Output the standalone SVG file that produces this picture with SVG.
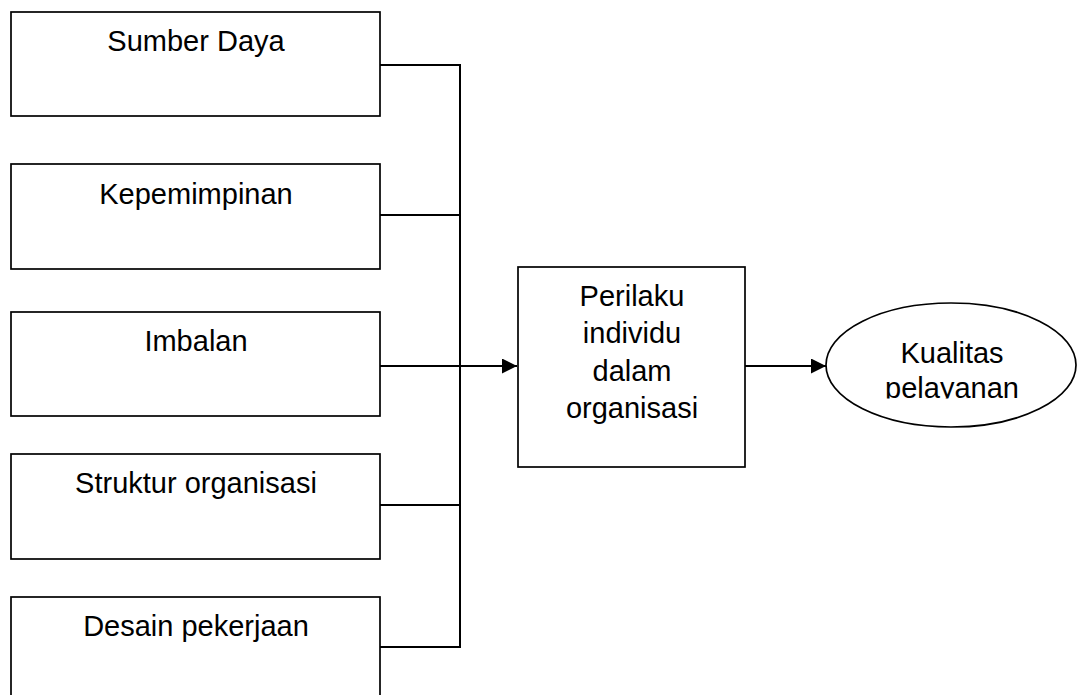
<svg xmlns="http://www.w3.org/2000/svg" width="1077" height="695" viewBox="0 0 1077 695">
<style>
.box{fill:#fff;stroke:#000;stroke-width:1.7}
.ln{fill:none;stroke:#000;stroke-width:2}
text{font-family:"Liberation Sans",Arial,sans-serif;font-size:29px;fill:#000;text-anchor:middle}
</style>
<defs>
<marker id="ah" markerWidth="17" markerHeight="17" refX="15" refY="7.5" orient="auto" markerUnits="userSpaceOnUse">
<path d="M0,0 L15,7.5 L0,15 Z" fill="#000"/>
</marker>
<clipPath id="clipK"><rect x="826" y="300" width="251" height="98.5"/></clipPath>
</defs>
<rect width="1077" height="695" fill="#fff"/>
<g id="connectors">
<path class="ln" d="M380,65 H460 M380,215 H460 M380,505 H460 M380,647 H460 M460,64 V648"/>
<path class="ln" d="M380,366 H517" marker-end="url(#ah)"/>
<path class="ln" d="M745,366 H826" marker-end="url(#ah)"/>
</g>
<g id="n1"><rect class="box" x="11" y="12" width="369" height="104"/><text x="196" y="51">Sumber Daya</text></g>
<g id="n2"><rect class="box" x="11" y="164" width="369" height="105"/><text x="196" y="204">Kepemimpinan</text></g>
<g id="n3"><rect class="box" x="11" y="312" width="369" height="104"/><text x="196" y="351">Imbalan</text></g>
<g id="n4"><rect class="box" x="11" y="454" width="369" height="105"/><text x="196" y="493">Struktur organisasi</text></g>
<g id="n5"><rect class="box" x="11" y="597" width="369" height="110"/><text x="196" y="636">Desain pekerjaan</text></g>
<g id="center"><rect class="box" x="518" y="267" width="227" height="200"/>
<text x="632" y="305.5">Perilaku</text><text x="632" y="343">individu</text><text x="632" y="380.5">dalam</text><text x="632" y="418">organisasi</text></g>
<g id="kualitas"><ellipse class="box" cx="951" cy="365" rx="125" ry="62"/>
<text x="952" y="363">Kualitas</text>
<text x="952" y="398" clip-path="url(#clipK)">pelayanan</text></g>
</svg>
